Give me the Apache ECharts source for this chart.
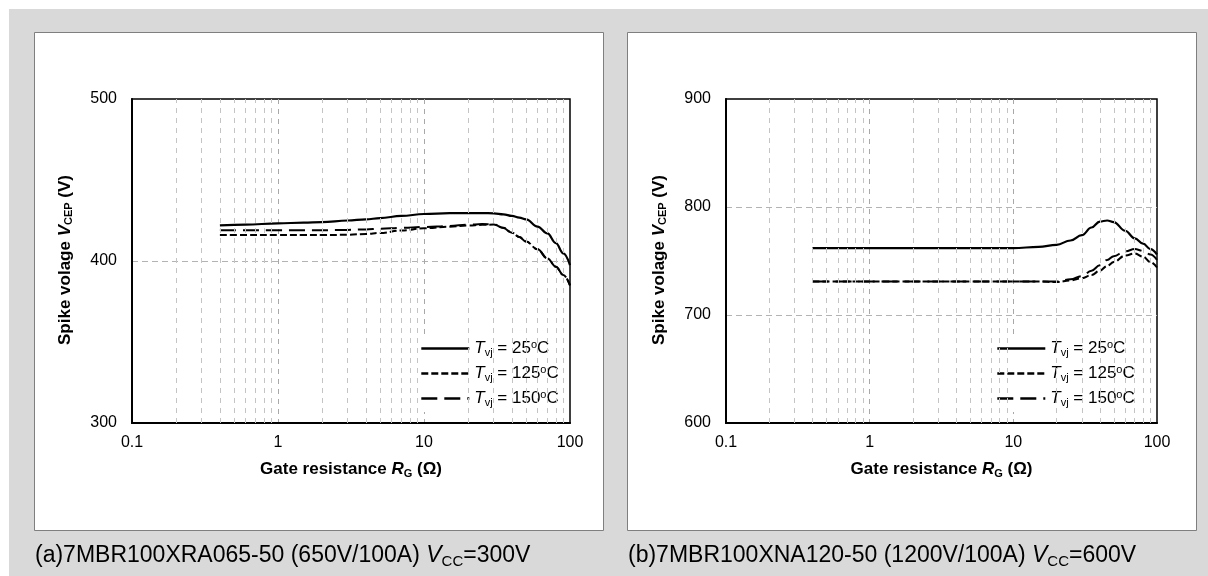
<!DOCTYPE html>
<html>
<head>
<meta charset="utf-8">
<script src="https://cdn.jsdelivr.net/npm/echarts@6/dist/echarts.min.js"></script>
<style>
  html, body { margin: 0; padding: 0; background: #fff; }
  #main { width: 1208px; height: 576px; }
</style>
</head>
<body>
<div id="main"></div>
<script>
// gate resistance points (ohm) shared by every curve
var rg = [0.4, 0.6, 1, 1.5, 2, 3, 4, 5, 7, 10, 15, 20, 25, 30, 35, 40, 45, 50, 60, 70, 80, 90, 100];

// (a) 7MBR100XRA065-50, Vcc = 300V
var spikeA25  = [422, 422.5, 423.2, 423.7, 424, 425, 425.7, 426.5, 427.8, 429, 429.5, 429.6, 429.6, 429.4, 428.8, 427.8, 426.8, 425.7, 421.2, 417, 411, 404.7, 397.5];
var spikeA125 = [416, 416, 416, 416, 416, 416.2, 416.7, 417.3, 418.8, 420.2, 421.2, 421.9, 422.3, 422.5, 420.5, 417.5, 414.8, 412, 407.2, 401.6, 396.5, 391.4, 385];
var spikeA150 = [419, 419, 419, 419, 419, 419.2, 419.5, 419.9, 420.5, 421, 421.6, 422.4, 422.8, 422.6, 420.3, 417.5, 414.8, 412, 407.2, 401.6, 396.5, 391.4, 385];

// (b) 7MBR100XNA120-50, Vcc = 600V
var spikeB25  = [762, 762, 762, 762, 762, 762, 762, 762, 762, 762, 763, 765, 769, 774, 781, 786.5, 787.5, 786, 778, 771, 766, 761, 756];
var spikeB125 = [731, 731, 731, 731, 731, 731, 731, 731, 731, 731, 731, 730.5, 732, 734, 737, 741, 745.5, 749, 755, 757, 754, 749, 744];
var spikeB150 = [731, 731, 731, 731, 731, 731, 731, 731, 731, 731, 731, 731, 733, 736, 741, 746, 751, 754.5, 759, 761, 759.5, 756, 751];

var tempNames = ['25', '125', '150'];
var minorRg = [0.2, 0.3, 0.4, 0.5, 0.6, 0.7, 0.8, 0.9, 2, 3, 4, 5, 6, 7, 8, 9, 20, 30, 40, 50, 60, 70, 80, 90];
var yRangeA = [300, 500];
var yRangeB = [600, 900];

var FONT = '"Liberation Sans", Arial, sans-serif';

function pairs(xs, ys) {
    return xs.map(function (x, i) { return [x, ys[i]]; });
}

var lineStyles = {
    '25':  { color: '#000', width: 2.2, type: 'solid' },
    '125': { color: '#000', width: 2, type: [7, 3] },
    '150': { color: '#000', width: 2, type: [16, 7] }
};

function curve(name, idx, ys) {
    return {
        name: name,
        type: 'line',
        xAxisIndex: idx,
        yAxisIndex: idx,
        symbol: 'none',
        showSymbol: false,
        smooth: 0.4,
        smoothMonotone: 'x',
        z: 3,
        itemStyle: { color: '#000' },
        lineStyle: lineStyles[name],
        data: pairs(rg, ys)
    };
}

function minorLines(idx) {
    return {
        type: 'line',
        xAxisIndex: idx,
        yAxisIndex: idx,
        data: [],
        z: 1,
        silent: true,
        markLine: {
            silent: true,
            symbol: 'none',
            label: { show: false },
            lineStyle: { type: [5, 5], color: '#c4c4c4', width: 1 },
            data: minorRg.map(function (v) { return { xAxis: v }; })
        }
    };
}

var subRich = {
    i: { fontStyle: 'italic' },
    s: { fontSize: 11, padding: [8, 0, 0, 0] },
    p: { fontSize: 11, padding: [0, 0, 8, 0] }
};
var boldRich = {
    i: { fontStyle: 'italic', fontWeight: 'bold', fontSize: 17 },
    s: { fontSize: 11, fontWeight: 'bold', padding: [8, 0, 0, 0] }
};

function xAxisOf(idx) {
    return {
        type: 'log',
        logBase: 10,
        gridIndex: idx,
        min: 0.1,
        max: 100,
        axisLine: { lineStyle: { color: '#000', width: 2 } },
        axisTick: { show: false },
        axisLabel: { fontSize: 16, fontFamily: FONT, color: '#000', margin: 12 },
        splitLine: { show: true, showMinLine: false, showMaxLine: false, lineStyle: { type: [5, 5], color: '#a8a8a8' } },
        name: 'Gate resistance {i|R}{s|G} (Ω)',
        nameLocation: 'middle',
        nameGap: 37,
        nameTextStyle: { fontSize: 17, fontWeight: 'bold', fontFamily: FONT, color: '#000', rich: boldRich }
    };
}

function yAxisOf(idx, range) {
    return {
        type: 'value',
        gridIndex: idx,
        min: range[0],
        max: range[1],
        interval: 100,
        axisLine: { show: true, lineStyle: { color: '#000', width: 2 } },
        axisTick: { show: false },
        axisLabel: { fontSize: 16, fontFamily: FONT, color: '#000', margin: 15 },
        splitLine: { show: true, showMinLine: false, showMaxLine: false, lineStyle: { type: [6, 4], color: '#b3b3b3' } }
    };
}

function legendOf(left) {
    return {
        orient: 'vertical',
        left: left,
        top: 335,
        itemWidth: 48,
        itemHeight: 14,
        itemGap: 6,
        padding: [4, 6, 4, 4],
        backgroundColor: '#fff',
        itemStyle: { opacity: 0 },
        lineStyle: { width: 2.6 },
        data: tempNames,
        formatter: function (name) {
            return '{i|T}{s|vj} = ' + name + '{p|o}C';
        },
        textStyle: { fontSize: 17, fontFamily: FONT, color: '#000', rich: subRich }
    };
}

function captionOf(x, text) {
    return {
        type: 'text',
        x: x,
        y: 556,
        z: 10,
        style: {
            text: text,
            fontSize: 23,
            fontFamily: FONT,
            fill: '#000',
            align: 'left',
            verticalAlign: 'middle',
            rich: {
                i: { fontStyle: 'italic', fontSize: 23 },
                s: { fontSize: 15, padding: [11, 0, 0, 0] }
            }
        }
    };
}

function yTitleOf(x) {
    return {
        type: 'text',
        x: x,
        y: 260,
        z: 10,
        rotation: Math.PI / 2,
        style: {
            text: 'Spike volage {i|V}{s|CEP} (V)',
            fontSize: 17,
            fontWeight: 'bold',
            fontFamily: FONT,
            fill: '#000',
            align: 'center',
            verticalAlign: 'middle',
            rich: boldRich
        }
    };
}

var chart = echarts.init(document.getElementById('main'));
chart.setOption({
    animation: false,
    graphic: [
        { type: 'rect', z: -100, shape: { x: 9, y: 9, width: 1199, height: 567 }, style: { fill: '#d9d9d9' } },
        { type: 'rect', z: -90, shape: { x: 34.5, y: 32.5, width: 569, height: 498 }, style: { fill: '#fff', stroke: '#7f7f7f', lineWidth: 1 } },
        { type: 'rect', z: -90, shape: { x: 627.5, y: 32.5, width: 569, height: 498 }, style: { fill: '#fff', stroke: '#7f7f7f', lineWidth: 1 } },
        yTitleOf(65),
        yTitleOf(659),
        captionOf(35, '(a)7MBR100XRA065-50 (650V/100A) {i|V}{s|CC}=300V'),
        captionOf(628, '(b)7MBR100XNA120-50 (1200V/100A) {i|V}{s|CC}=600V')
    ],
    grid: [
        { left: 132, top: 99, width: 438, height: 324, show: true, borderColor: '#000', borderWidth: 1.5 },
        { left: 726, top: 99, width: 431, height: 324, show: true, borderColor: '#000', borderWidth: 1.5 }
    ],
    xAxis: [xAxisOf(0), xAxisOf(1)],
    yAxis: [yAxisOf(0, yRangeA), yAxisOf(1, yRangeB)],
    legend: [legendOf(416), legendOf(992)],
    series: [
        minorLines(0),
        minorLines(1),
        curve('25', 0, spikeA25),
        curve('125', 0, spikeA125),
        curve('150', 0, spikeA150),
        curve('25', 1, spikeB25),
        curve('125', 1, spikeB125),
        curve('150', 1, spikeB150)
    ]
});
</script>
</body>
</html>
